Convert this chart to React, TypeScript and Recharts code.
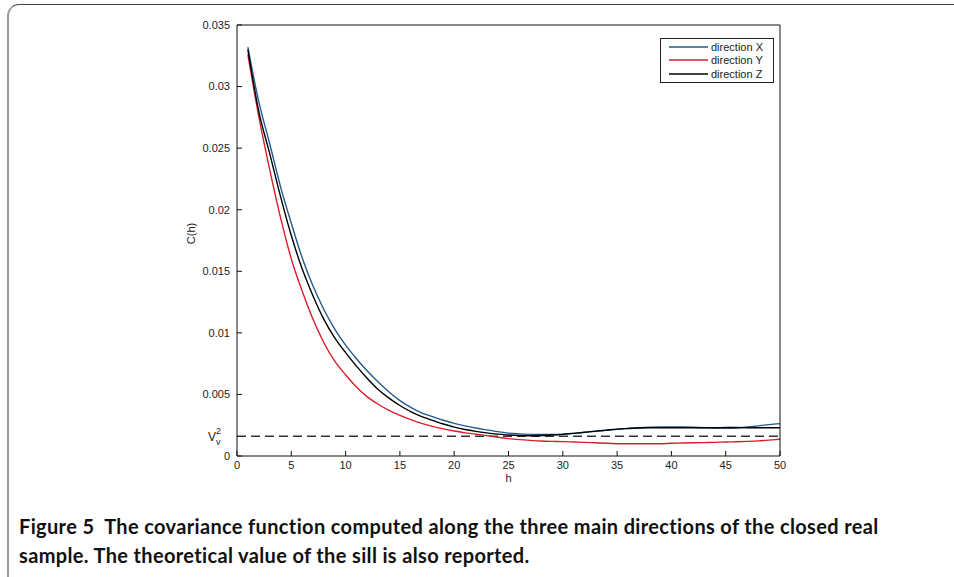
import React from "react";
import {
  LineChart,
  Line,
  XAxis,
  YAxis,
  Legend,
  ReferenceLine,
} from "recharts";

// lag h (voxels)
const H = [
  1, 2, 3, 4, 5, 6, 7, 8, 9, 10, 11, 12, 13, 14, 15, 16, 17, 18, 19, 20, 21, 22, 23, 24, 25,
  26, 27, 28, 29, 30, 31, 32, 33, 34, 35, 36, 37, 38, 39, 40, 41, 42, 43, 44, 45, 46, 47, 48, 49, 50,
];

// covariance
const DIR_X = [
  0.0332, 0.0288, 0.0254, 0.0219, 0.0189, 0.0161, 0.0138, 0.0119, 0.0103, 0.009,
  0.0079, 0.0069, 0.006, 0.0052, 0.0045, 0.00395, 0.0035, 0.0032, 0.0029, 0.00265,
  0.00245, 0.00227, 0.00212, 0.00198, 0.00186, 0.0018, 0.00176, 0.00174, 0.00174, 0.00177,
  0.00184, 0.00192, 0.002, 0.00208, 0.00216, 0.00224, 0.0023, 0.00234, 0.00236, 0.00236,
  0.00235, 0.00233, 0.0023, 0.00226, 0.00225, 0.00227, 0.00235, 0.00245, 0.00255, 0.00263,
];
const DIR_Y = [
  0.0326, 0.0276, 0.0233, 0.0194, 0.016, 0.0134, 0.0111, 0.0092, 0.0077, 0.0066,
  0.0056, 0.0048, 0.0042, 0.0037, 0.0033, 0.00295, 0.00265, 0.0024, 0.0022, 0.00203,
  0.00188, 0.00177, 0.00165, 0.00152, 0.00141, 0.00133, 0.00127, 0.00122, 0.00119, 0.00117,
  0.00114, 0.00111, 0.00107, 0.00103, 0.001, 0.00099, 0.00099, 0.00099, 0.001, 0.00103,
  0.00105, 0.00107, 0.00109, 0.00111, 0.00114, 0.00116, 0.00119, 0.00123, 0.00129, 0.00136,
];
const DIR_Z = [
  0.033, 0.028, 0.0246, 0.0211, 0.0179, 0.0152, 0.013, 0.0111, 0.0096, 0.0084,
  0.0073, 0.0063, 0.0054, 0.0047, 0.0041, 0.0036, 0.0032, 0.0029, 0.0026, 0.00235,
  0.00215, 0.002, 0.00188, 0.00178, 0.0017, 0.00166, 0.00165, 0.00166, 0.0017, 0.00176,
  0.00184, 0.00193, 0.00202, 0.0021, 0.00218, 0.00223, 0.00227, 0.00229, 0.0023, 0.0023,
  0.0023, 0.0023, 0.0023, 0.0023, 0.00231, 0.00231, 0.0023, 0.0023, 0.0023, 0.0023,
];

const SILL = 0.0016;
const X_TICKS = [0, 5, 10, 15, 20, 25, 30, 35, 40, 45, 50];
const Y_TICKS = [0, 0.005, 0.01, 0.015, 0.02, 0.025, 0.03, 0.035];

const data = H.map((h, i) => ({ h, x: DIR_X[i], y: DIR_Y[i], z: DIR_Z[i] }));

const FONT = "'Liberation Sans', Arial, sans-serif";
const tickStyle = { fontSize: 11, fill: "#222", fontFamily: FONT };

function SillLabel(props: any) {
  const { viewBox } = props;
  const x = viewBox.x - 29;
  const y = viewBox.y;
  return (
    <g fontFamily={FONT} fill="#222">
      <text x={x} y={y + 5} fontSize={12}>V</text>
      <text x={x + 8} y={y - 2} fontSize={9}>2</text>
      <text x={x + 8} y={y + 9} fontSize={9}>v</text>
    </g>
  );
}

function YTitle(props: any) {
  const { viewBox } = props;
  const cx = viewBox.x + 14;
  const cy = viewBox.y + viewBox.height / 2 - 7;
  return (
    <text
      x={cx}
      y={cy}
      transform={`rotate(-90 ${cx} ${cy})`}
      textAnchor="middle"
      dominantBaseline="central"
      fontSize={11}
      fontFamily={FONT}
      fill="#222"
    >
      C(h)
    </text>
  );
}

function XTitle(props: any) {
  const { viewBox } = props;
  return (
    <text
      x={viewBox.x + viewBox.width / 2}
      y={viewBox.y + 26}
      textAnchor="middle"
      fontSize={11}
      fontFamily={FONT}
      fill="#222"
    >
      h
    </text>
  );
}

function LegendBox({ payload }: any) {
  return (
    <div
      style={{
        border: "1px solid #222",
        background: "#fff",
        width: 112,
        height: 42,
        paddingTop: 1,
        boxSizing: "content-box",
        fontFamily: FONT,
        fontSize: 11,
        color: "#222",
      }}
    >
      {(payload || []).map((p: any) => (
        <div key={p.value} style={{ display: "flex", alignItems: "center", height: 13.5 }}>
          <svg width={48} height={4} style={{ flex: "none" }}>
            <line x1={8} x2={47} y1={2} y2={2} stroke={p.color} strokeWidth={1.5} />
          </svg>
          <span style={{ marginLeft: 2, lineHeight: "12px" }}>{p.value}</span>
        </div>
      ))}
    </div>
  );
}

export default function App() {
  return (
    <div
      style={{
        position: "absolute",
        left: 0,
        top: 0,
        width: 954,
        height: 577,
        overflow: "hidden",
        background: "#fff",
      }}
    >
      <div
        style={{
          position: "absolute",
          left: 7,
          top: 4,
          width: 1000,
          height: 700,
          borderTop: "1.5px solid #444",
          borderLeft: "2px solid #999",
          borderTopLeftRadius: 12,
        }}
      />
      <div style={{ position: "absolute", left: 0, top: 0 }}>
        <LineChart
          width={954}
          height={500}
          data={data}
          margin={{ top: 24, right: 173, bottom: 14, left: 177 }}
        >
          <XAxis
            dataKey="h"
            type="number"
            domain={[0, 50]}
            ticks={X_TICKS}
            tickSize={-5}
            tickMargin={10}
            height={30}
            tick={tickStyle}
            stroke="#111"
            label={<XTitle />}
          />
          <XAxis
            xAxisId="top"
            orientation="top"
            dataKey="h"
            type="number"
            domain={[0, 50]}
            ticks={X_TICKS}
            tickSize={-5}
            height={1}
            tick={false}
            stroke="#111"
          />
          <YAxis
            type="number"
            domain={[0, 0.035]}
            ticks={Y_TICKS}
            tickSize={-5}
            tickMargin={12}
            width={60}
            tick={tickStyle}
            tickFormatter={(v: number) => String(v)}
            stroke="#111"
            label={<YTitle />}
          />
          <YAxis
            yAxisId="right"
            orientation="right"
            type="number"
            domain={[0, 0.035]}
            ticks={Y_TICKS}
            tickSize={-5}
            width={1}
            tick={false}
            stroke="#111"
          />
          <ReferenceLine
            y={SILL}
            stroke="#333"
            strokeWidth={1.6}
            strokeDasharray="9 5"
            label={<SillLabel />}
          />
          <Line
            type="monotone"
            dataKey="x"
            name="direction X"
            stroke="#245a8c"
            strokeWidth={1.4}
            dot={false}
            isAnimationActive={false}
          />
          <Line
            type="monotone"
            dataKey="y"
            name="direction Y"
            stroke="#d81e2a"
            strokeWidth={1.4}
            dot={false}
            isAnimationActive={false}
          />
          <Line
            type="monotone"
            dataKey="z"
            name="direction Z"
            stroke="#000"
            strokeWidth={1.4}
            dot={false}
            isAnimationActive={false}
          />
          <Legend
            layout="vertical"
            align="center"
            verticalAlign="middle"
            content={<LegendBox />}
            wrapperStyle={{ left: 660, top: 38, width: "auto" }}
          />
        </LineChart>
      </div>
      <div
        style={{
          position: "absolute",
          left: 19,
          top: 512,
          fontFamily: "Lato, sans-serif",
          fontWeight: 700,
          fontSize: 20,
          letterSpacing: 0.35,
          lineHeight: "28.5px",
          color: "#111",
          whiteSpace: "pre",
        }}
      >
        {"Figure 5  The covariance function computed along the three main directions of the closed real\nsample. The theoretical value of the sill is also reported."}
      </div>
    </div>
  );
}
